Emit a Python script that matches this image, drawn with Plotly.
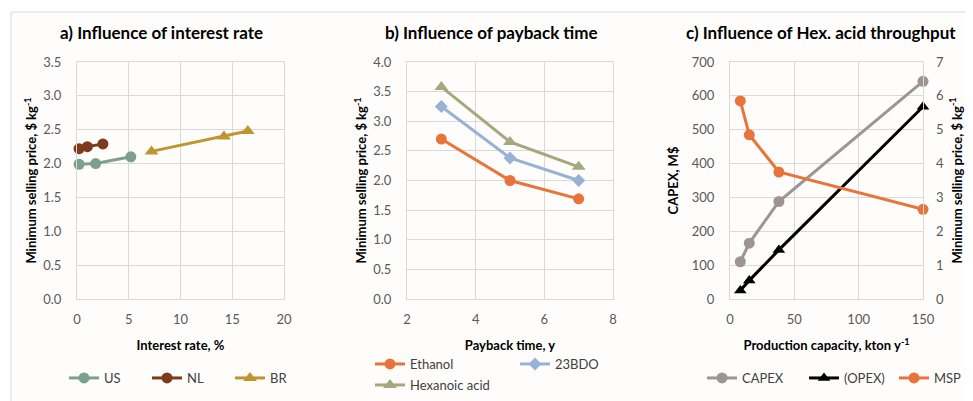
import plotly.graph_objects as go

# a) interest rate
us_x = [0.2, 1.8, 5.2]
us_y = [1.99, 2.00, 2.10]
nl_x = [0.2, 1.0, 2.5]
nl_y = [2.22, 2.25, 2.29]
br_x = [7.2, 14.2, 16.5]
br_y = [2.18, 2.40, 2.48]

# b) payback time
payback = [3, 5, 7]
ethanol = [2.70, 2.00, 1.69]
bdo = [3.25, 2.38, 2.00]
hexanoic = [3.58, 2.65, 2.23]

# c) throughput
capacity = [8, 15, 38, 150]
capex = [110, 165, 288, 643]
opex = [25, 55, 145, 568]
msp = [5.85, 4.85, 3.75, 2.65]

W, H = 973, 401
OFF = 8  # page body margin
FONT = "Lato"
TXT = "#404040"
GRID = "#D9D9D9"
BG = "#FEFDFB"


def px(x):
    return (x - OFF) / W


def py(y):
    return 1 - (y - OFF) / H


y_dom = [py(299), py(62)]

fig = go.Figure()


def line(x, y, name, color, symbol, size, xa, ya, legend):
    fig.add_trace(go.Scatter(
        x=x, y=y, name=name, mode="lines+markers",
        line=dict(color=color, width=3),
        marker=dict(symbol=symbol, size=size, color=color),
        xaxis=xa, yaxis=ya, legend=legend, cliponaxis=False))


line(us_x, us_y, "US", "#7D9F8F", "circle", 11, "x", "y", "legend")
line(nl_x, nl_y, "NL", "#7E3A1A", "circle", 11, "x", "y", "legend")
line(br_x, br_y, "BR", "#BF9530", "triangle-up", 12, "x", "y", "legend")

line(payback, ethanol, "Ethanol", "#E8743B", "circle", 11, "x2", "y2", "legend2")
line(payback, bdo, "23BDO", "#98B2D6", "diamond", 10, "x2", "y2", "legend2")
line(payback, hexanoic, "Hexanoic acid", "#A4A97B", "triangle-up", 12, "x2", "y2", "legend3")

line(capacity, capex, "CAPEX", "#9E9395", "circle", 11, "x3", "y3", "legend4")
line(capacity, opex, "(OPEX)", "#000000", "triangle-up", 11, "x3", "y3", "legend4")
line(capacity, msp, "MSP", "#E8743B", "circle", 11, "x3", "y4", "legend5")

tickf = dict(family=FONT, size=13, color="#595959")
titlef = dict(family=FONT, size=13, color="#000000", weight="bold")


def xax(dom, rng, dtick, title, anchor):
    return dict(domain=[px(dom[0]), px(dom[1])], range=rng, dtick=dtick,
                anchor=anchor, showgrid=True, gridcolor=GRID, gridwidth=1,
                showline=True, linecolor=GRID, mirror=True, zeroline=False,
                tickfont=tickf, ticks="", ticklabelstandoff=8,
                title=dict(text=title, font=titlef, standoff=15),
                automargin=False)


def yax(rng, dtick, title, anchor, fmt=".1f", standoff=3):
    return dict(domain=y_dom, range=rng, dtick=dtick, anchor=anchor,
                showgrid=True, gridcolor=GRID, gridwidth=1,
                showline=True, linecolor=GRID, mirror=True, zeroline=False,
                tickfont=tickf, tickformat=fmt, ticks="", ticklabelstandoff=12,
                title=dict(text=title, font=titlef, standoff=standoff),
                automargin=False)


msp_title = "Minimum selling price, $ kg<sup>-1</sup>"
legfont = dict(family=FONT, size=13, color=TXT)


def leg(x, y, ew=None):
    d = dict(orientation="h", x=px(x), y=py(y), xanchor="left", yanchor="middle",
             font=legfont, bgcolor="rgba(0,0,0,0)")
    if ew:
        d.update(entrywidth=ew, entrywidthmode="pixels")
    return d


fig.update_layout(
    width=W, height=H,
    margin=dict(l=0, r=0, t=0, b=0, autoexpand=False),
    paper_bgcolor="white", plot_bgcolor=BG,
    font=dict(family=FONT, color=TXT),
    xaxis=xax((77, 284), [0, 20], 5, "Interest rate, %", "y"),
    yaxis=yax([0, 3.5], 0.5, msp_title, "x"),
    xaxis2=xax((407, 613), [2, 8], 2, "Payback time, y", "y2"),
    yaxis2=yax([0, 4], 0.5, msp_title, "x2"),
    xaxis3=xax((730, 923), [0, 150], 50, "Production capacity, kton y<sup>-1</sup>", "y3"),
    yaxis3=yax([0, 700], 100, "CAPEX, M$", "x3", fmt="d", standoff=10),
    yaxis4=dict(domain=y_dom, range=[0, 7], dtick=1, anchor="x3", overlaying="y3",
                side="right", showgrid=False, zeroline=False, showline=False,
                tickfont=tickf, ticks="", ticklabelstandoff=12,
                title=dict(text=msp_title, font=titlef, standoff=9),
                automargin=False),
    legend=leg(64, 378, 38),
    legend2=leg(370, 364, 100),
    legend3=leg(370, 385),
    legend4=leg(702, 378, 57),
    legend5=leg(894, 378),
    showlegend=True,
)

# panel frame
fig.add_shape(type="rect", xref="paper", yref="paper",
              x0=px(11), x1=1.02, y0=-0.03, y1=py(12),
              line=dict(color=GRID, width=1), fillcolor=BG, layer="below")

titles = [("a) Influence of interest rate", 161),
          ("b) Influence of payback time", 491),
          ("c) Influence of Hex. acid throughput", 821)]
for text, cx in titles:
    fig.add_annotation(text=text, x=px(cx), y=py(32), xref="paper", yref="paper",
                       showarrow=False, xanchor="center", yanchor="middle",
                       font=dict(family=FONT, size=17, color="#000000", weight="bold"))

fig.write_html("out.html")
